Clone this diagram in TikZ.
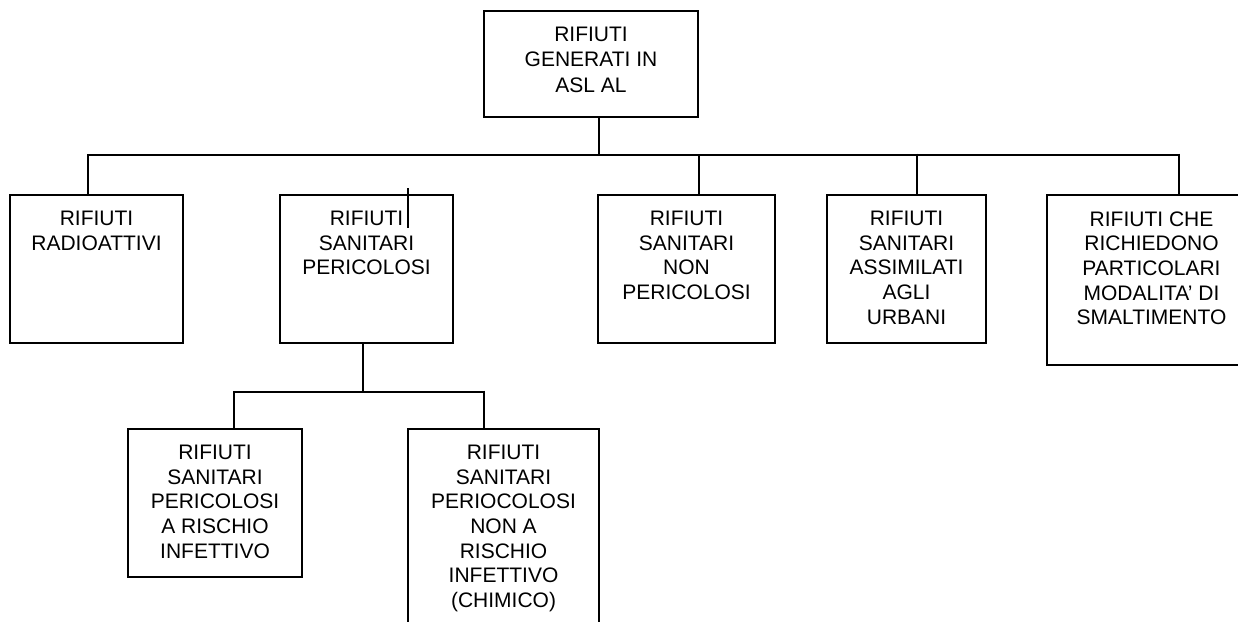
\documentclass[tikz,border=0pt]{standalone}
\usepackage{fontspec}
\setmainfont{Liberation Sans}
\begin{document}
\begin{tikzpicture}[x=1pt,y=-1pt,
  box/.style={draw=black,line width=2pt,rectangle,inner sep=0pt},
  lbl/.style={anchor=north,align=center,inner sep=0pt,font=\fontsize{21}{24.6}\selectfont},
  conn/.style={draw=black,line width=2pt}]
\clip (0,0) rectangle (1238,621);
\fill[white] (0,0) rectangle (1238,621);
% boxes
\node[box,minimum width=214pt,minimum height=106pt] (top) at (591,64) {};
\node[box,minimum width=173pt,minimum height=148pt] (rad) at (96.5,269) {};
\node[box,minimum width=173pt,minimum height=148pt] (per) at (366.5,269) {};
\node[box,minimum width=177pt,minimum height=148pt] (nonp) at (686.5,269) {};
\node[box,minimum width=159pt,minimum height=148pt] (assim) at (906.5,269) {};
\node[box,minimum width=209pt,minimum height=170pt] (part) at (1151.5,280) {};
\node[box,minimum width=174pt,minimum height=148pt] (inf) at (215,503) {};
\node[box,minimum width=191pt,minimum height=211pt] (chim) at (503.5,534.5) {};
% labels
\node[lbl,font=\fontsize{21}{25.5}\selectfont] (ttop) at ([yshift=-16.5pt]top.north) {RIFIUTI\\GENERATI IN\\ASL AL};
\node[lbl] (trad) at ([yshift=-17pt]rad.north) {RIFIUTI\\RADIOATTIVI};
\node[lbl] (tper) at ([yshift=-17pt]per.north) {RIFIUTI\\SANITARI\\PERICOLOSI};
\node[lbl] (tnonp) at ([yshift=-17pt]nonp.north) {RIFIUTI\\SANITARI\\NON\\PERICOLOSI};
\node[lbl] (tassim) at ([yshift=-17pt]assim.north) {RIFIUTI\\SANITARI\\ASSIMILATI\\AGLI\\URBANI};
\node[lbl] (tpart) at ([yshift=-17.5pt]part.north) {RIFIUTI CHE\\RICHIEDONO\\PARTICOLARI\\MODALITA’ DI\\SMALTIMENTO};
\node[lbl] (tinf) at ([yshift=-17pt]inf.north) {RIFIUTI\\SANITARI\\PERICOLOSI\\A RISCHIO\\INFETTIVO};
\node[lbl] (tchim) at ([yshift=-17pt]chim.north) {RIFIUTI\\SANITARI\\PERIOCOLOSI\\NON A\\RISCHIO\\INFETTIVO\\(CHIMICO)};
% junction coordinates
\coordinate (hub) at (599,155);
\coordinate (busL) at (88,155);
\coordinate (busR) at (1179,155);
\coordinate (j3) at (699,155);
\coordinate (j4) at (917,155);
\coordinate (stubA) at (408,188);
\coordinate (stubB) at (408,228);
\coordinate (sub) at (363,392);
\coordinate (subL) at (234,392);
\coordinate (subR) at (484,392);
% connectors
\draw[conn] (top.south -| hub) -- (hub);
\draw[conn] ([xshift=-1pt]busL) -- ([xshift=1pt]busR);
\draw[conn] (busL) -- (busL |- rad.north);
\draw[conn] (j3) -- (j3 |- nonp.north);
\draw[conn] ([yshift=1.5pt]j4) -- (j4 |- assim.north);
\draw[conn] ([yshift=1.5pt]busR) -- (busR |- part.north);
\draw[conn] (stubA) -- (stubB);
\draw[conn] (per.south -| sub) -- (sub);
\draw[conn] ([xshift=-1pt]subL) -- ([xshift=1pt]subR);
\draw[conn] (subL) -- (subL |- inf.north);
\draw[conn] ([yshift=1.5pt]subR) -- (subR |- chim.north);
\end{tikzpicture}
\end{document}
